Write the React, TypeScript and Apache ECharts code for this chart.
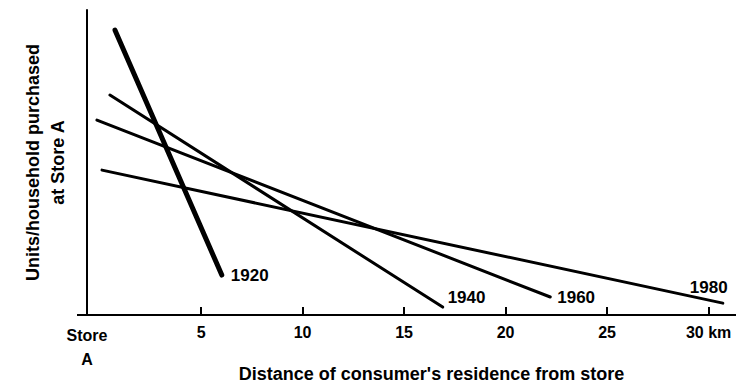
import React, { useEffect, useRef } from "react";
import * as echarts from "echarts";

// Data (distance in km, units purchased in relative units 0-100)
const seriesNames = ["1920", "1940", "1960", "1980"];
const distance1920 = [0.76, 6.02];
const units1920 = [93.4, 13.1];
const distance1940 = [0.51, 16.9];
const units1940 = [72.1, 2.6];
const distance1960 = [-0.13, 22.2];
const units1960 = [63.9, 5.9];
const distance1980 = [0.12, 30.7];
const units1980 = [47.5, 3.9];
const tickValues = [5, 10, 15, 20, 25, 30];
const xMin = -0.62;
const xMax = 31.35;
const tickLabels: Record<string, string> = {
  "5": "5",
  "10": "10",
  "15": "15",
  "20": "20",
  "25": "25",
  "30": "30 km",
};
const originLabel = ["Store", "A"];
const xName = "Distance of consumer's residence from store";
const yName = ["Units/household purchased", "at Store A"];

const FONT = "'Liberation Sans', Arial, Helvetica, sans-serif";

function pairs(xs: number[], ys: number[]) {
  return xs.map((x, i) => [x, ys[i]]);
}

export default function App() {
  const ref = useRef<HTMLDivElement>(null);
  useEffect(() => {
    if (!ref.current) return;
    const chart = echarts.init(ref.current, undefined, { renderer: "svg" });
    const allData = [
      pairs(distance1920, units1920),
      pairs(distance1940, units1940),
      pairs(distance1960, units1960),
      pairs(distance1980, units1980),
    ];
    const widths = [5, 3, 3, 3];
    const labelOffsets = [
      [4, 0],
      [0, -10],
      [2, 0],
      [-38, -16],
    ];
    chart.setOption({
      animation: false,
      backgroundColor: "#ffffff",
      grid: {
        left: 87,
        right: 0,
        top: 10,
        bottom: 74,
        containLabel: false,
        outerBoundsMode: "none",
      },
      xAxis: {
        type: "value",
        min: xMin,
        max: xMax,
        name: xName,
        nameLocation: "middle",
        nameGap: 50,
        nameMoveOverlap: false,
        nameTextStyle: {
          fontFamily: FONT,
          fontWeight: "bold",
          fontSize: 18,
          color: "#000",
          padding: [0, 0, 0, 40],
        },
        axisLine: {
          show: true,
          onZero: false,
          lineStyle: { color: "#000", width: 2 },
        },
        axisTick: {
          show: true,
          inside: true,
          length: 8,
          customValues: tickValues,
          lineStyle: { color: "#000", width: 2 },
        },
        axisLabel: {
          show: true,
          margin: 8,
          customValues: [xMin, ...tickValues],
          fontFamily: FONT,
          fontWeight: "bold",
          fontSize: 16,
          color: "#000",
          lineHeight: 18,
          formatter: (v: number) =>
            v < 0
              ? `{s|${originLabel[0]}}\n{s|${originLabel[1]}}`
              : tickLabels[String(Math.round(v))] ?? String(v),
          rich: {
            s: {
              fontFamily: FONT,
              fontWeight: "bold",
              fontSize: 16,
              color: "#000",
              lineHeight: 24,
            },
          },
        },
        splitLine: { show: false },
      },
      yAxis: {
        type: "value",
        min: 0,
        max: 100,
        name: yName.join("\n"),
        nameLocation: "middle",
        nameGap: 17,
        nameMoveOverlap: false,
        nameTextStyle: {
          fontFamily: FONT,
          fontWeight: "bold",
          fontSize: 18,
          color: "#000",
          lineHeight: 25,
          align: "center",
        },
        axisLine: {
          show: true,
          onZero: false,
          lineStyle: { color: "#000", width: 2 },
        },
        axisTick: { show: false },
        axisLabel: { show: false },
        splitLine: { show: false },
      },
      graphic: [
        {
          type: "line",
          shape: { x1: 77, y1: 315, x2: 88, y2: 315 },
          style: { stroke: "#000", lineWidth: 2 },
        },
      ],
      series: seriesNames.map((name, i) => ({
        type: "line",
        name,
        data: allData[i],
        symbol: "none",
        lineStyle: { color: "#000", width: widths[i], cap: "round" },
        endLabel: {
          show: true,
          formatter: "{a}",
          fontFamily: FONT,
          fontWeight: "bold",
          fontSize: 17,
          color: "#000",
          distance: 5,
          offset: labelOffsets[i],
        },
        silent: true,
      })),
    });
    return () => chart.dispose();
  }, []);
  return (
    <div
      ref={ref}
      style={{ position: "absolute", left: 0, top: 0, width: 736, height: 389 }}
    />
  );
}
